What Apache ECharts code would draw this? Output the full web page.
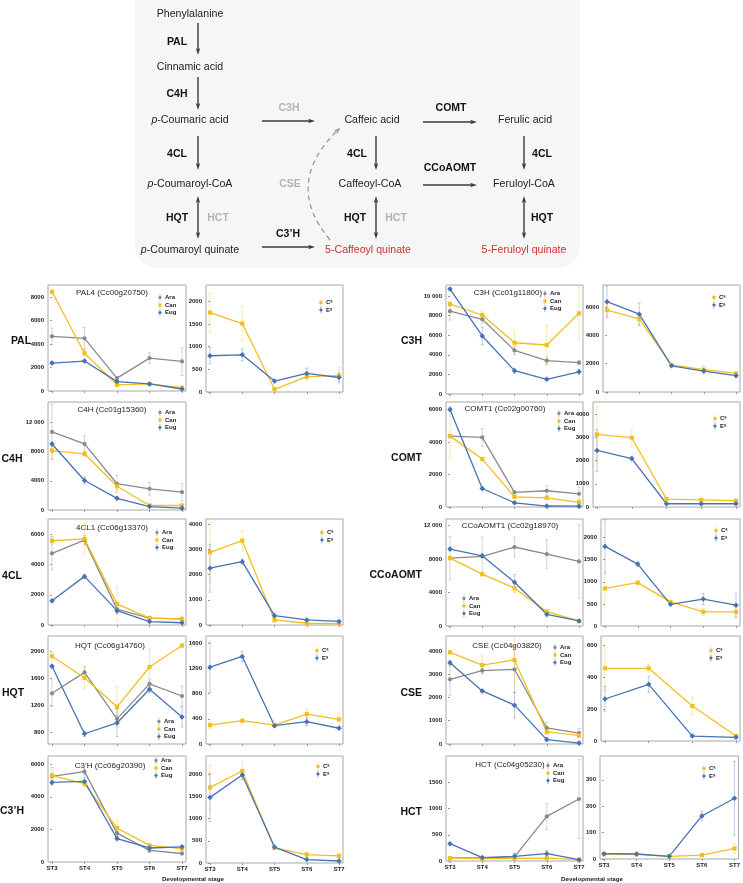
<!DOCTYPE html>
<html><head><meta charset="utf-8">
<script src="https://cdn.jsdelivr.net/npm/echarts@6/dist/echarts.min.js"></script>
<style>html,body{margin:0;padding:0;background:#fff}#c{width:743px;height:883px}</style>
</head><body><div id="c"></div>
<script>
const stages = ['ST3','ST4','ST5','ST6','ST7'];
const stagesCSE = ['ST3','ST4','ST5','ST7'];
// PAL
const palAra = [4650, 4480, 1100, 2800, 2520], palAraErr = [700, 950, 100, 450, 1200];
const palCan = [8450, 3210, 520, 600, 280],   palCanErr = [150, 300, 80, 100, 100];
const palEug = [2380, 2550, 800, 600, 170],   palEugErr = [150, 150, 100, 80, 50];
const palCa = [1750, 1510, 60, 340, 360],     palCaErr = [430, 380, 30, 80, 180];
const palEa = [800, 820, 240, 410, 320],      palEaErr = [180, 130, 40, 120, 100];
// C4H
const c4hAra = [10700, 9050, 3600, 2900, 2450], c4hAraErr = [3800, 1100, 1200, 900, 1200];
const c4hCan = [8150, 7700, 3250, 620, 620],    c4hCanErr = [1100, 400, 500, 150, 150];
const c4hEug = [9050, 4050, 1600, 470, 250],    c4hEugErr = [300, 500, 200, 100, 60];
// 4CL
const fclAra = [4750, 5620, 1050, 450, 400], fclAraErr = [1100, 300, 300, 100, 100];
const fclCan = [5580, 5700, 1400, 450, 400], fclCanErr = [300, 1000, 1100, 150, 200];
const fclEug = [1600, 3220, 950, 230, 150],  fclEugErr = [100, 150, 150, 50, 30];
const fclCa = [2880, 3340, 200, 70, 50],     fclCaErr = [1200, 400, 100, 30, 20];
const fclEa = [2250, 2510, 370, 200, 140],   fclEaErr = [950, 100, 100, 40, 40];
// HQT
const hqtAra = [1380, 1690, 1000, 1520, 1340], hqtAraErr = [200, 80, 50, 60, 150];
const hqtCan = [1930, 1610, 1180, 1770, 2090], hqtCanErr = [60, 170, 300, 270, 30];
const hqtEug = [1780, 780, 940, 1440, 1030],   hqtEugErr = [30, 40, 200, 50, 150];
const hqtCa = [300, 370, 300, 475, 390],       hqtCaErr = [50, 20, 20, 80, 100];
const hqtEa = [1220, 1390, 290, 355, 250],     hqtEaErr = [400, 80, 30, 60, 20];
// C3'H
const c3phAra = [5250, 5540, 1770, 710, 520], c3phAraErr = [550, 200, 200, 100, 100];
const c3phCan = [5300, 4800, 2080, 1020, 820], c3phCanErr = [150, 200, 450, 100, 100];
const c3phEug = [4880, 4940, 1440, 860, 930],  c3phEugErr = [100, 250, 150, 100, 80];
const c3phCa = [1705, 2075, 340, 190, 160],    c3phCaErr = [500, 200, 30, 40, 60];
const c3phEa = [1480, 1985, 360, 77, 45],      c3phEaErr = [550, 100, 40, 20, 15];
// C3H
const c3hAra = [8450, 7620, 4450, 3400, 3200], c3hAraErr = [900, 400, 400, 400, 200];
const c3hCan = [9180, 8060, 5230, 5000, 8230], c3hCanErr = [200, 400, 1200, 2000, 2700];
const c3hEug = [10700, 5920, 2380, 1500, 2260], c3hEugErr = [150, 900, 250, 100, 250];
const c3hCa = [5790, 5160, 1910, 1580, 1320],  c3hCaErr = [500, 400, 80, 300, 100];
const c3hEa = [6380, 5500, 1850, 1480, 1150],  c3hEaErr = [1100, 800, 60, 150, 100];
// COMT
const comtAra = [4360, 4280, 900, 1000, 810], comtAraErr = [100, 550, 100, 300, 400];
const comtCan = [4360, 2950, 620, 560, 280],  comtCanErr = [1350, 100, 100, 100, 150];
const comtEug = [6000, 1140, 260, 60, 50],    comtEugErr = [150, 100, 50, 20, 20];
const comtCa = [3130, 2990, 340, 310, 270],   comtCaErr = [1200, 400, 50, 50, 50];
const comtEa = [2440, 2090, 140, 140, 140],   comtEaErr = [900, 100, 20, 20, 20];
// CCoAOMT
const ccoAra = [8120, 8320, 9450, 8610, 7720], ccoAraErr = [2600, 2300, 1200, 1700, 4400];
const ccoCan = [8120, 6200, 4520, 1720, 600],  ccoCanErr = [200, 150, 500, 300, 100];
const ccoEug = [9200, 8400, 5240, 1400, 600],  ccoEugErr = [200, 200, 900, 300, 100];
const ccoCa = [850, 980, 545, 320, 320],       ccoCaErr = [330, 40, 40, 80, 150];
const ccoEa = [1800, 1400, 490, 610, 470],     ccoEaErr = [600, 50, 30, 130, 260];
// CSE
const cseAra = [2780, 3150, 3210, 690, 470], cseAraErr = [700, 100, 1000, 250, 200];
const cseCan = [3940, 3390, 3610, 520, 370], cseCanErr = [60, 400, 1000, 100, 100];
const cseEug = [3490, 2280, 1670, 190, 40],  cseEugErr = [100, 50, 550, 80, 20];
const cseCa = [457, 457, 220, 31],           cseCaErr = [140, 25, 55, 8];
const cseEa = [264, 356, 31, 23],            cseEaErr = [80, 50, 8, 5];
// HCT
const hctAra = [60, 60, 80, 850, 1180], hctAraErr = [20, 20, 60, 250, 750];
const hctCan = [55, 45, 50, 55, 25],    hctCanErr = [20, 15, 15, 20, 10];
const hctEug = [330, 65, 90, 140, 25],  hctEugErr = [30, 20, 60, 60, 10];
const hctCa = [18, 18, 10, 15, 40],     hctCaErr = [3, 3, 2, 3, 18];
const hctEa = [20, 19, 10, 163, 230],   hctEaErr = [3, 3, 3, 18, 140];

const FONT = '"Liberation Sans", Arial, sans-serif';
const CA = 'C\u1d43', EA = 'E\u1d43';
const COLORS = {Ara:'#8a8a8a', Can:'#f2bf1f', Eug:'#4673b2'};
COLORS[CA] = COLORS.Can; COLORS[EA] = COLORS.Eug;
const SYMBOLS = {Ara:'circle', Can:'rect', Eug:'diamond'};
SYMBOLS[CA] = 'rect'; SYMBOLS[EA] = 'diamond';
const SIZES = {circle:4.2, rect:4.2, diamond:5.5};
const ICONS = {
  circle: 'path://M4.6,0H5.4V10H4.6Z M5,2.6 L6.7,3.3 L7.4,5 L6.7,6.7 L5,7.4 L3.3,6.7 L2.6,5 L3.3,3.3Z',
  rect: 'path://M4.6,0H5.4V10H4.6Z M2.8,2.8H7.2V7.2H2.8Z',
  diamond: 'path://M4.6,0H5.4V10H4.6Z M5,2 L7.8,5 L5,8 L2.2,5Z'
};

const three = (a,ae,b,be,c,ce) => [['Ara',a,ae],['Can',b,be],['Eug',c,ce]];
const two = (a,ae,b,be) => [[CA,a,ae],[EA,b,be]];

const panels = [
  {box:[48,285,138,106], ymax:9020, yt:[0,2000,4000,6000,8000], ser:three(palAra,palAraErr,palCan,palCanErr,palEug,palEugErr), leg:[158,294]},
  {box:[206,285,137,107], ymax:2360, yt:[0,500,1000,1500,2000], ser:two(palCa,palCaErr,palEa,palEaErr), leg:[319,299]},
  {box:[48,402,138,108], ymax:14800, yt:[0,4000,8000,12000], ser:three(c4hAra,c4hAraErr,c4hCan,c4hCanErr,c4hEug,c4hEugErr), leg:[158,409]},
  {box:[48,519,138,106], ymax:7020, yt:[0,2000,4000,6000], ser:three(fclAra,fclAraErr,fclCan,fclCanErr,fclEug,fclEugErr), leg:[155,529]},
  {box:[206,519,137,106], ymax:4200, yt:[0,1000,2000,3000,4000], ser:two(fclCa,fclCaErr,fclEa,fclEaErr), leg:[320,529]},
  {box:[48,636,138,108], ymin:628, ymax:2230, yt:[800,1200,1600,2000], ser:three(hqtAra,hqtAraErr,hqtCan,hqtCanErr,hqtEug,hqtEugErr), leg:[157,718]},
  {box:[206,636,137,108], ymax:1714, yt:[0,400,800,1200,1600], ser:two(hqtCa,hqtCaErr,hqtEa,hqtEaErr), leg:[315,647]},
  {box:[48,756,138,106], ymax:6500, yt:[0,2000,4000,6000], ser:three(c3phAra,c3phAraErr,c3phCan,c3phCanErr,c3phEug,c3phEugErr), leg:[154,757], xl:true},
  {box:[206,756,137,107], ymax:2414, yt:[0,500,1000,1500,2000], ser:two(c3phCa,c3phCaErr,c3phEa,c3phEaErr), leg:[316,763], xl:true},
  {box:[446,285,137,109], ymax:11120, yt:[0,2000,4000,6000,8000,10000], ser:three(c3hAra,c3hAraErr,c3hCan,c3hCanErr,c3hEug,c3hEugErr), leg:[543,290]},
  {box:[603,285,137,107], ymax:7560, yt:[0,2000,4000,6000], ser:two(c3hCa,c3hCaErr,c3hEa,c3hEaErr), leg:[712,294]},
  {box:[446,402,137,105], ymax:6460, yt:[0,2000,4000,6000], ser:three(comtAra,comtAraErr,comtCan,comtCanErr,comtEug,comtEugErr), leg:[557,410]},
  {box:[593,402,147,105], ymax:4530, yt:[0,1000,2000,3000,4000], ser:two(comtCa,comtCaErr,comtEa,comtEaErr), leg:[713,415]},
  {box:[446,519,137,107], ymax:12800, yt:[0,4000,8000,12000], ser:three(ccoAra,ccoAraErr,ccoCan,ccoCanErr,ccoEug,ccoEugErr), leg:[462,595]},
  {box:[601,519,139,107], ymax:2420, yt:[0,500,1000,1500,2000], ser:two(ccoCa,ccoCaErr,ccoEa,ccoEaErr), leg:[714,527]},
  {box:[446,636,137,108], ymax:4640, yt:[0,1000,2000,3000,4000], ser:three(cseAra,cseAraErr,cseCan,cseCanErr,cseEug,cseEugErr), leg:[553,644]},
  {box:[601,636,139,105], ymax:660, yt:[0,200,400,600], ser:two(cseCa,cseCaErr,cseEa,cseEaErr), leg:[709,647], cats:stagesCSE},
  {box:[446,756,137,105], ymax:2000, yt:[0,500,1000,1500], ser:three(hctAra,hctAraErr,hctCan,hctCanErr,hctEug,hctEugErr), leg:[546,762], xl:true},
  {box:[600,756,140,103], ymax:390, yt:[0,100,200,300], ser:two(hctCa,hctCaErr,hctEa,hctEaErr), leg:[702,765], xl:true}
];

const geneTitles = [
  ['PAL4 (Cc00g20750)',112,293], ['C4H (Cc01g15360)',112,410], ['4CL1 (Cc06g13370)',112,528],
  ['HQT (Cc06g14760)',110,646], ['C3\u2019H (Cc06g20390)',110,766],
  ['C3H (Cc01g11800)',508,293], ['COMT1 (Cc02g00760)',505,409], ['CCoAOMT1 (Cc02g18970)',510,526],
  ['CSE (Cc04g03820)',507,646], ['HCT (Cc04g05230)',510,765]
];
const rowLabels = [
  ['PAL',21,341,'center'], ['C4H',12,459,'center'], ['4CL',12,576,'center'], ['HQT',13,693,'center'], ['C3\u2019H',12,811,'center'],
  ['C3H',422,341,'right'], ['COMT',422,458,'right'], ['CCoAOMT',422,575,'right'], ['CSE',422,693,'right'], ['HCT',422,812,'right']
];

const fmt = v => v >= 10000 ? String(Math.floor(v/1000)) + ' ' + String(v%1000).padStart(3,'0') : String(v);

const grids = [], xAxes = [], yAxes = [], series = [], legends = [];
panels.forEach((p, gi) => {
  const cats = p.cats || stages;
  const n = cats.length;
  const [l,t,w,h] = p.box;
  const pad = 4 / ((w - 8) / (n - 1));
  const idx = cats.map((c,i)=>i);
  grids.push({left:l, top:t, width:w, height:h, show:true, borderColor:'#a8a8a8', borderWidth:1, backgroundColor:'#fff'});
  xAxes.push({gridIndex:gi, type:'value', min:-pad, max:n-1+pad,
    axisLine:{show:false}, splitLine:{show:false},
    axisTick:{show:true, customValues:idx, length:2, lineStyle:{color:'#999'}},
    axisLabel:{show:!!p.xl, customValues:idx, formatter:v=>cats[Math.round(v)], fontSize:6, fontWeight:'bold', color:'#222', margin:3, fontFamily:FONT}});
  yAxes.push({gridIndex:gi, type:'value', min:p.ymin||0, max:p.ymax,
    axisLine:{show:false}, splitLine:{show:false},
    axisTick:{show:true, customValues:p.yt, length:2, lineStyle:{color:'#999'}},
    axisLabel:{customValues:p.yt, formatter:fmt, fontSize:6, fontWeight:'bold', color:'#222', margin:4, fontFamily:FONT}});
  p.ser.forEach(([name, vals, errs]) => {
    const c = COLORS[name];
    series.push({type:'custom', xAxisIndex:gi, yAxisIndex:gi, clip:true, silent:true, z:1,
      data: vals.map((v,i)=>[i, v, errs[i]]), encode:{x:0, y:1},
      renderItem:(prm, api) => {
        const x = api.value(0), y = api.value(1), e = api.value(2);
        const a = api.coord([x, y+e]), b = api.coord([x, y-e]);
        const st = {stroke:c, lineWidth:0.8, opacity:0.45};
        return {type:'group', children:[
          {type:'line', shape:{x1:a[0],y1:a[1],x2:b[0],y2:b[1]}, style:st},
          {type:'line', shape:{x1:a[0]-1.5,y1:a[1],x2:a[0]+1.5,y2:a[1]}, style:st},
          {type:'line', shape:{x1:b[0]-1.5,y1:b[1],x2:b[0]+1.5,y2:b[1]}, style:st}
        ]};
      }});
    series.push({type:'line', name, xAxisIndex:gi, yAxisIndex:gi, z:3,
      data: vals.map((v,i)=>[i, v]),
      symbol:SYMBOLS[name], symbolSize:SIZES[SYMBOLS[name]],
      itemStyle:{color:c}, lineStyle:{color:c, width:1.3}});
  });
  legends.push({left:p.leg[0], top:p.leg[1], orient:'vertical', padding:0, itemGap:0.5,
    itemWidth:6, itemHeight:7, selectedMode:false,
    textStyle:{fontSize:6, fontWeight:'bold', color:'#222', fontFamily:FONT, padding:[0,0,0,-3]},
    data: p.ser.map(s=>({name:s[0], icon:ICONS[SYMBOLS[s[0]]]}))});
});

// pathway diagram
const DARK = '#3a3a3a';
function arrow(x1,y1,x2,y2,dbl){
  const dx=x2-x1, dy=y2-y1, L=Math.hypot(dx,dy), ux=dx/L, uy=dy/L, hl=7, hw=2.2;
  const head=(px,py,ux,uy)=>({type:'polygon', shape:{points:[[px,py],[px-ux*hl-uy*hw, py-uy*hl+ux*hw],[px-ux*hl*0.75, py-uy*hl*0.75],[px-ux*hl+uy*hw, py-uy*hl-ux*hw]]}, style:{fill:DARK}});
  const sx = dbl ? x1+ux*hl*0.7 : x1, sy = dbl ? y1+uy*hl*0.7 : y1;
  const els = [{type:'line', shape:{x1:sx,y1:sy,x2:x2-ux*hl*0.7,y2:y2-uy*hl*0.7}, style:{stroke:DARK, lineWidth:1.4}}, head(x2,y2,ux,uy)];
  if (dbl) els.push(head(x1,y1,-ux,-uy));
  return els;
}
function txt(x,y,text,opt){
  return {type:'text', x, y, style:Object.assign({text, align:'center', verticalAlign:'middle', fontSize:10.6, fontFamily:FONT, fill:'#222'}, opt||{})};
}
const B = {fontWeight:'bold', fontSize:10.5, fill:'#111'};
const G = {fontWeight:'bold', fontSize:10.5, fill:'#b3b3b3'};
const R = {fill:'#d0312d'};
const ITAL = {rich:{i:{fontStyle:'italic', fontSize:10.6, fontFamily:FONT, fill:'#222'}, n:{fontSize:10.6, fontFamily:FONT, fill:'#222'}}};

const graphics = [
  {type:'rect', shape:{x:135, y:-20, width:445, height:288, r:22}, style:{fill:'#f6f6f6'}, z:-1},
  txt(190,14,'Phenylalanine'), txt(177,42,'PAL',B),
  txt(190,67,'Cinnamic acid'), txt(177,94,'C4H',B),
  txt(190,120,'{i|p}{n|-Coumaric acid}',ITAL), txt(177,154,'4CL',B),
  txt(190,184,'{i|p}{n|-Coumaroyl-CoA}',ITAL), txt(177,218,'HQT',B), txt(218,218,'HCT',G),
  txt(190,250,'{i|p}{n|-Coumaroyl quinate}',ITAL),
  txt(289,108,'C3H',G), txt(290,184,'CSE',G), txt(288,234,'C3\u2019H',B),
  txt(372,120,'Caffeic acid'), txt(357,154,'4CL',B), txt(370,184,'Caffeoyl-CoA'),
  txt(355,218,'HQT',B), txt(396,218,'HCT',G), txt(368,250,'5-Caffeoyl quinate',R),
  txt(451,108,'COMT',B), txt(450,168,'CCoAOMT',B),
  txt(525,120,'Ferulic acid'), txt(542,154,'4CL',B), txt(524,184,'Feruloyl-CoA'),
  txt(542,218,'HQT',B), txt(524,250,'5-Feruloyl quinate',R),
  ...arrow(198,23,198,55), ...arrow(198,77,198,110), ...arrow(198,136,198,170), ...arrow(198,196,198,239,true),
  ...arrow(262,121,315,121), ...arrow(376,136,376,170), ...arrow(376,196,376,239,true),
  ...arrow(423,122,477,122), ...arrow(524,136,524,170), ...arrow(423,185,477,185), ...arrow(524,196,524,239,true),
  ...arrow(262,247,315,247),
  {type:'bezierCurve', shape:{x1:330,y1:240,cpx1:283,cpy1:184,x2:337,y2:131}, style:{stroke:'#9a9a9a', lineWidth:1.3, lineDash:[5,4], fill:null}},
  {type:'polygon', shape:{points:(()=>{const px=340.5,py=127.5,ux=0.713,uy=-0.701,hl=7,hw=2.4;return [[px,py],[px-ux*hl-uy*hw,py-uy*hl+ux*hw],[px-ux*hl*0.75,py-uy*hl*0.75],[px-ux*hl+uy*hw,py-uy*hl-ux*hw]];})()}, style:{fill:'#9a9a9a'}}
];
geneTitles.forEach(([t,x,y]) => graphics.push(txt(x,y,t,{fontSize:8, fill:'#222'})));
rowLabels.forEach(([t,x,y,a]) => graphics.push(txt(x,y,t,{fontSize:10.5, fontWeight:'bold', fill:'#111', align:a})));
graphics.push(txt(193,879,'Developmental stage',{fontSize:6.2, fontWeight:'bold'}));
graphics.push(txt(592,879,'Developmental stage',{fontSize:6.2, fontWeight:'bold'}));

const chart = echarts.init(document.getElementById('c'), null, {renderer:'canvas'});
chart.setOption({
  animation:false, backgroundColor:'#fff',
  textStyle:{fontFamily:FONT},
  grid:grids, xAxis:xAxes, yAxis:yAxes, legend:legends, series,
  graphic:{elements:graphics}
});
</script></body></html>
